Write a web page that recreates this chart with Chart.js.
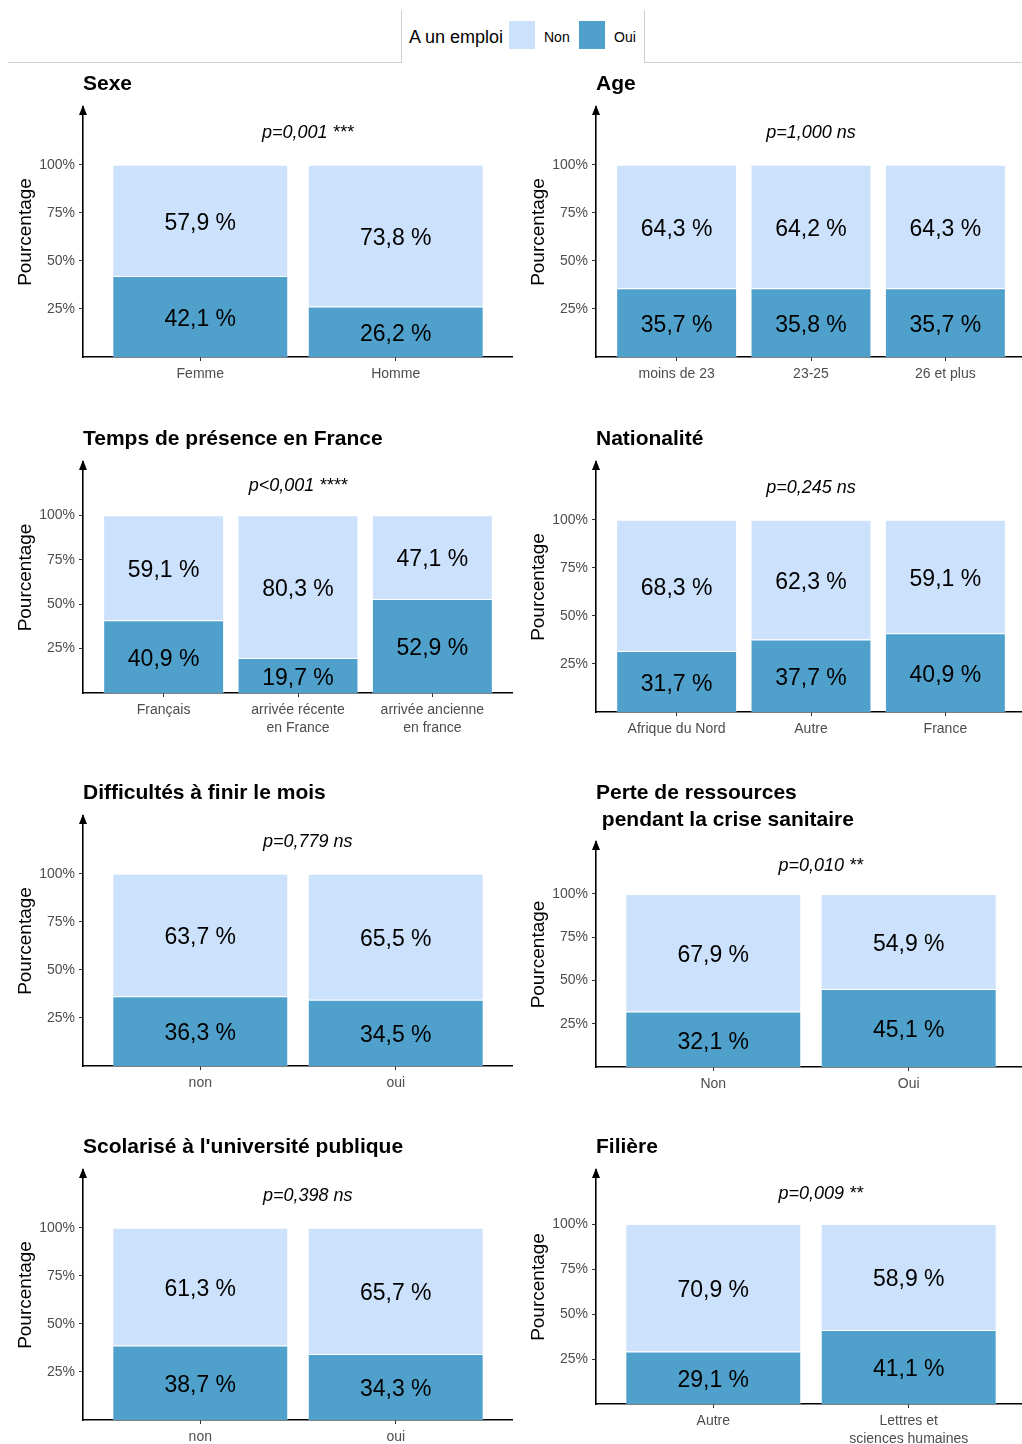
<!DOCTYPE html>
<html><head><meta charset="utf-8">
<script src="https://cdn.jsdelivr.net/npm/chart.js@4.4.1/dist/chart.umd.min.js"></script>
<style>
html,body{margin:0;padding:0;background:#fff;overflow:hidden;}
#root{position:relative;width:1022px;height:1444px;overflow:hidden;font-family:"Liberation Sans",Arial,sans-serif;color:#000;}
.ptitle{position:absolute;font-weight:bold;font-size:21px;line-height:27px;white-space:pre;}
.line{position:absolute;background:#cfcfcf;}
.ltxt{position:absolute;white-space:nowrap;}
canvas{position:absolute;}
</style></head>
<body><div id="root"></div>
<script>
// ---------- data ----------
const seriesNames = ['Non', 'Oui'];
const legendTitle = 'A un emploi';

const sexeCats = ['Femme', 'Homme'];
const sexeNon = [57.9, 73.8];
const sexeOui = [42.1, 26.2];

const ageCats = ['moins de 23', '23-25', '26 et plus'];
const ageNon = [64.3, 64.2, 64.3];
const ageOui = [35.7, 35.8, 35.7];

const tempsCats = ['Français', ['arrivée récente', 'en France'], ['arrivée ancienne', 'en france']];
const tempsNon = [59.1, 80.3, 47.1];
const tempsOui = [40.9, 19.7, 52.9];

const natCats = ['Afrique du Nord', 'Autre', 'France'];
const natNon = [68.3, 62.3, 59.1];
const natOui = [31.7, 37.7, 40.9];

const diffCats = ['non', 'oui'];
const diffNon = [63.7, 65.5];
const diffOui = [36.3, 34.5];

const perteCats = ['Non', 'Oui'];
const perteNon = [67.9, 54.9];
const perteOui = [32.1, 45.1];

const scolCats = ['non', 'oui'];
const scolNon = [61.3, 65.7];
const scolOui = [38.7, 34.3];

const filCats = ['Autre', ['Lettres et', 'sciences humaines']];
const filNon = [70.9, 58.9];
const filOui = [29.1, 41.1];

const titles = ['Sexe', 'Age', 'Temps de présence en France', 'Nationalité',
  'Difficultés à finir le mois', 'Perte de ressources\n pendant la crise sanitaire',
  "Scolarisé à l'université publique", 'Filière'];
const pTexts = ['p=0,001 ***', 'p=1,000 ns', 'p<0,001 ****', 'p=0,245 ns',
  'p=0,779 ns', 'p=0,010 **', 'p=0,398 ns', 'p=0,009 **'];
const yTicks = [25, 50, 75, 100];

// ---------- layout / style ----------
const colNon = '#cce1fb';
const colOui = '#4fa1cc';
const FONT = '"Liberation Sans", Arial, sans-serif';

const panels = [
  {cats: sexeCats, non: sexeNon, oui: sexeOui, col: 0, chartTop: 106, zeroY: 356, titleY: 83},
  {cats: ageCats, non: ageNon, oui: ageOui, col: 1, chartTop: 106, zeroY: 356, titleY: 83},
  {cats: tempsCats, non: tempsNon, oui: tempsOui, col: 0, chartTop: 461, zeroY: 692, titleY: 438},
  {cats: natCats, non: natNon, oui: natOui, col: 1, chartTop: 461, zeroY: 711, titleY: 438},
  {cats: diffCats, non: diffNon, oui: diffOui, col: 0, chartTop: 815, zeroY: 1065, titleY: 792},
  {cats: perteCats, non: perteNon, oui: perteOui, col: 1, chartTop: 841, zeroY: 1066, titleY: 792},
  {cats: scolCats, non: scolNon, oui: scolOui, col: 0, chartTop: 1169, zeroY: 1419, titleY: 1146},
  {cats: filCats, non: filNon, oui: filOui, col: 1, chartTop: 1169, zeroY: 1403, titleY: 1146}
];

const root = document.getElementById('root');
function el(cls, css, text) {
  const d = document.createElement('div');
  d.className = cls;
  Object.assign(d.style, css);
  if (text !== undefined) d.textContent = text;
  root.appendChild(d);
  return d;
}

// ---------- top legend ----------
el('line', {left: '8px', top: '62px', width: '394px', height: '1px'});
el('line', {left: '401px', top: '10px', width: '1px', height: '53px'});
el('line', {left: '644px', top: '10px', width: '1px', height: '53px'});
el('line', {left: '644px', top: '62px', width: '378px', height: '1px'});
el('ltxt', {left: '409px', top: '25px', fontSize: '18px', lineHeight: '24px'}, legendTitle);
el('ltxt', {left: '509px', top: '21px', width: '26px', height: '28px', background: colNon});
el('ltxt', {left: '544px', top: '28px', fontSize: '14px', lineHeight: '18px'}, seriesNames[0]);
el('ltxt', {left: '579px', top: '21px', width: '26px', height: '28px', background: colOui});
el('ltxt', {left: '614px', top: '28px', fontSize: '14px', lineHeight: '18px'}, seriesNames[1]);

// ---------- plugins ----------
const fmt = v => v.toFixed(1).replace('.', ',') + ' %';
const barLabels = {
  id: 'barLabels',
  afterDatasetsDraw(chart) {
    const ctx = chart.ctx;
    ctx.save();
    ctx.font = '23px ' + FONT;
    ctx.fillStyle = '#000';
    ctx.textAlign = 'center';
    ctx.textBaseline = 'middle';
    chart.data.datasets.forEach((ds, di) => {
      chart.getDatasetMeta(di).data.forEach((bar, i) => {
        const p = bar.getProps(['x', 'y', 'base'], true);
        ctx.fillText(fmt(ds.data[i].y), p.x, (p.y + p.base) / 2 + 3);
      });
    });
    ctx.restore();
  }
};
const decor = {
  id: 'decor',
  afterDraw(chart, args, opts) {
    const {ctx, chartArea: a, scales} = chart;
    ctx.save();
    ctx.fillStyle = '#000';
    ctx.beginPath();
    ctx.moveTo(a.left, a.top - 2);
    ctx.lineTo(a.left - 4, a.top + 8);
    ctx.lineTo(a.left + 4, a.top + 8);
    ctx.closePath();
    ctx.fill();
    ctx.font = 'italic 18px ' + FONT;
    ctx.textAlign = 'center';
    ctx.textBaseline = 'middle';
    ctx.fillText(opts.text, scales.x.getPixelForValue(opts.xv), scales.y.getPixelForValue(opts.yv) + 1);
    ctx.restore();
  }
};

// ---------- charts ----------
const PADTOP = 16, XH = 50, YW = 83, PLOTW = 430;
panels.forEach((p, k) => {
  const axisX = p.col === 0 ? 83 : 596;
  const left = axisX - YW;
  const h = (p.zeroY - p.chartTop) + PADTOP + XH;
  const cv = document.createElement('canvas');
  cv.width = YW + PLOTW; cv.height = h;
  cv.style.left = left + 'px';
  cv.style.top = (p.chartTop - PADTOP + 1) + 'px';
  cv.style.width = (YW + PLOTW) + 'px';
  cv.style.height = h + 'px';
  root.appendChild(cv);

  el('ptitle', {left: axisX + 'px', top: (p.titleY - 14) + 'px'}, titles[k]);

  const n = p.cats.length;
  const mk = arr => arr.map((v, i) => ({x: i + 1, y: v}));
  new Chart(cv, {
    type: 'bar',
    data: {
      datasets: [
        {label: seriesNames[1], data: mk(p.oui), backgroundColor: colOui, borderColor: 'rgba(255,255,255,0.35)', borderWidth: 1},
        {label: seriesNames[0], data: mk(p.non), backgroundColor: colNon, borderColor: 'rgba(255,255,255,0.35)', borderWidth: 1}
      ]
    },
    options: {
      responsive: false,
      animation: false,
      devicePixelRatio: 1,
      categoryPercentage: 1,
      barPercentage: 0.9,
      layout: {padding: {top: PADTOP, left: 0, right: 0, bottom: 0}},
      plugins: {
        legend: {display: false},
        tooltip: {enabled: false},
        decor: {text: pTexts[k], xv: (n + 1) / 2 + (n === 2 ? 0.05 : 0), yv: 117}
      },
      scales: {
        x: {
          type: 'linear', stacked: true, offset: false,
          min: 0.4, max: n + 0.6,
          afterBuildTicks: s => { s.ticks = p.cats.map((_, i) => ({value: i + 1})); },
          afterFit: s => { s.height = XH; },
          grid: {display: true, drawOnChartArea: false, offset: false, tickLength: 4, color: '#333', lineWidth: 1},
          border: {display: true, color: '#000', width: 1.6},
          ticks: {
            autoSkip: false, maxRotation: 0, minRotation: 0, padding: 4,
            color: '#4d4d4d', font: {family: FONT, size: 14, lineHeight: 1.3},
            callback: v => p.cats[Math.round(v) - 1]
          }
        },
        y: {
          type: 'linear', stacked: true, min: 0, max: 130,
          afterBuildTicks: s => { s.ticks = yTicks.map(v => ({value: v})); },
          afterFit: s => { s.width = YW; },
          grid: {display: true, drawOnChartArea: false, tickLength: 4, color: '#333', lineWidth: 1},
          border: {display: true, color: '#000', width: 1.6},
          ticks: {padding: 4, color: '#4d4d4d', font: {family: FONT, size: 14}, callback: v => v + '%'},
          title: {display: true, text: 'Pourcentage', color: '#000', font: {family: FONT, size: 19}, padding: {top: 14, bottom: 0}}
        }
      }
    },
    plugins: [barLabels, decor]
  });
});
</script>
</body></html>
